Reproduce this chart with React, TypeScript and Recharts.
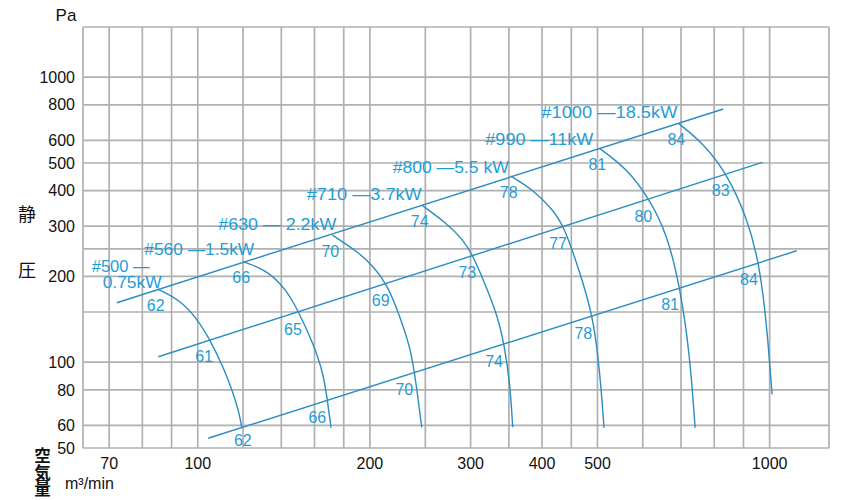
import React from 'react';
import { ComposedChart, Line, Scatter, XAxis, YAxis, CartesianGrid } from 'recharts';

type Pt = { q: number; p: number; db?: number };

// Axis setup (air volume m3/min, static pressure Pa) – log/log
const xDomain: [number, number] = [63, 1270];
const yDomain: [number, number] = [50, 1500];
const xTicks = [70, 100, 200, 300, 400, 500, 1000];
const yTicks = [50, 60, 80, 100, 200, 300, 400, 500, 600, 800, 1000];
const xGrid = [63, 70, 80, 90, 100, 120, 140, 160, 180, 200, 250, 300, 350, 400, 450, 500, 600, 700, 800, 900, 1000, 1270];
const yGrid = [50, 60, 80, 100, 150, 200, 250, 300, 400, 500, 600, 800, 1000, 1500];

// System (resistance) lines
const sysLine1: Pt[] = [{ q: 72.2, p: 161.7 }, { q: 829.9, p: 773.3 }];
const sysLine2: Pt[] = [{ q: 85.3, p: 104.5 }, { q: 971, p: 502.7 }];
const sysLine3: Pt[] = [{ q: 104.3, p: 54.1 }, { q: 1115, p: 246.1 }];

// Fan curves, db = noise level (dB) at the system-line crossings
const fan500: Pt[] = [
  { q: 85.1, p: 180.6, db: 62 }, { q: 93.1, p: 165.3 }, { q: 99.6, p: 142.6 },
  { q: 105.1, p: 119.7, db: 61 }, { q: 110.8, p: 96.4 }, { q: 115.4, p: 77.8 },
  { q: 118.2, p: 66.2 }, { q: 119.4, p: 58.9, db: 62 },
];
const fan560: Pt[] = [
  { q: 120.1, p: 225.3, db: 66 }, { q: 132.0, p: 210.7 }, { q: 143.1, p: 179.2 },
  { q: 150.3, p: 149.2, db: 65 }, { q: 159.2, p: 116.5 }, { q: 165.8, p: 91.4 },
  { q: 168.5, p: 73.7, db: 66 }, { q: 171.0, p: 58.9 },
];
const fan630: Pt[] = [
  { q: 171.9, p: 279.4, db: 70 }, { q: 192.2, p: 241.1 }, { q: 202.8, p: 216.3 },
  { q: 214.0, p: 189.1, db: 69 }, { q: 225.8, p: 144.4 }, { q: 235.0, p: 113.3 },
  { q: 239.2, p: 92.6, db: 70 }, { q: 243.0, p: 73.7 }, { q: 246.4, p: 59.1 },
];
const fan710: Pt[] = [
  { q: 246.4, p: 356.0, db: 74 }, { q: 272.5, p: 307.2 }, { q: 291.3, p: 268.4 },
  { q: 303.3, p: 235.9, db: 73 }, { q: 321.1, p: 179.2 }, { q: 334.5, p: 144.4 },
  { q: 343.2, p: 116.5, db: 74 }, { q: 351.6, p: 84.4 }, { q: 355.4, p: 59.1 },
];
const fan800: Pt[] = [
  { q: 352.6, p: 450.1, db: 78 }, { q: 386.2, p: 401.9 }, { q: 418.4, p: 342.0 },
  { q: 437.0, p: 298.9, db: 77 }, { q: 462.3, p: 216.3 }, { q: 491.6, p: 145.6, db: 78 },
  { q: 505.1, p: 91.4 }, { q: 513.3, p: 58.9 },
];
const fan990: Pt[] = [
  { q: 503.7, p: 563.0, db: 81 }, { q: 562.4, p: 478.9 }, { q: 616.2, p: 373.7, db: 80 },
  { q: 660.9, p: 283.3 }, { q: 697.3, p: 184.0, db: 81 }, { q: 725.9, p: 104.5 },
  { q: 740.7, p: 58.9 },
];
const fan1000: Pt[] = [
  { q: 692.5, p: 688.9, db: 84 }, { q: 765.8, p: 586.3 }, { q: 841.3, p: 459.9, db: 83 },
  { q: 911.7, p: 323.9 }, { q: 958.1, p: 225.3, db: 84 }, { q: 988.3, p: 136.9 },
  { q: 1009.6, p: 77.2 },
];

const fanNames: string[][] = [
  ['#500 —', '0.75kW'],
  ['#560 —1.5kW'],
  ['#630 — 2.2kW'],
  ['#710 —3.7kW'],
  ['#800 —5.5 kW'],
  ['#990 —11kW'],
  ['#1000 —18.5kW'],
];
const fanCurves: Pt[][] = [fan500, fan560, fan630, fan710, fan800, fan990, fan1000];
const sysLines: Pt[][] = [sysLine1, sysLine2, sysLine3];

// ---------- styling ----------
const AXIS_FONT = '"Liberation Sans", Arial, Helvetica, sans-serif';
const CJK_FONT = '"Noto Sans CJK JP", "Noto Sans CJK SC", sans-serif';
const LINE_COLOR = '#2b8dc1';
const TEXT_BLUE = '#1f9dd6';
const GRID = '#b0b0b0';

// label placement (pixel offsets relative to the crossing point)
const NOISE_OFFSETS: [number, number][] = [[-2, 16], [-6, 17], [-10, 18]];
const NAME_LAYOUT: { dx: number; dy: number; w: number }[][] = [
  [{ dx: -8, dy: -23, w: 58 }, { dx: 4, dy: -7, w: 59 }],
  [{ dx: 11, dy: -12, w: 110 }],
  [{ dx: 4, dy: -11, w: 118 }],
  [{ dx: 0, dy: -11, w: 115 }],
  [{ dx: -2, dy: -9, w: 116 }],
  [{ dx: -6, dy: -9, w: 108 }],
  [{ dx: -1, dy: -11, w: 136 }],
];

const noiseData = fanCurves.flatMap((curve, fi) => {
  const marks = curve.filter((d) => d.db != null);
  return marks.map((d, level) => ({
    q: d.q,
    p: d.p,
    db: d.db,
    level,
    atEnd: d === curve[curve.length - 1],
    fi,
  }));
});

const nameData = fanCurves.map((curve, fi) => ({ q: curve[0].q, p: curve[0].p, fi }));

const renderNoise = (props: any) => {
  const { cx, cy, payload } = props;
  if (cx == null || cy == null) return <g />;
  const [dx, dy] = payload.atEnd ? [1, 13] : NOISE_OFFSETS[payload.level] || [0, 16];
  return (
    <text
      x={cx + dx}
      y={cy + dy}
      textAnchor="middle"
      dominantBaseline="central"
      fontSize={16}
      fontFamily={AXIS_FONT}
      fill={TEXT_BLUE}
    >
      {payload.db}
    </text>
  );
};

const renderName = (props: any) => {
  const { cx, cy, payload } = props;
  if (cx == null || cy == null) return <g />;
  const lines = fanNames[payload.fi];
  const layout = NAME_LAYOUT[payload.fi];
  return (
    <g>
      {lines.map((t, i) => (
        <text
          key={i}
          x={cx + layout[i].dx}
          y={cy + layout[i].dy}
          textAnchor="end"
          dominantBaseline="central"
          fontSize={16}
          fontFamily={AXIS_FONT}
          fill={TEXT_BLUE}
          textLength={layout[i].w}
          lengthAdjust="spacingAndGlyphs"
        >
          {t}
        </text>
      ))}
    </g>
  );
};

const tickStyle = { fill: '#111', fontSize: 16, fontFamily: AXIS_FONT };

export default function App() {
  return (
    <div style={{ position: 'absolute', left: 0, top: 0, width: 850, height: 500, background: '#fff' }}>
      <ComposedChart width={850} height={500} margin={{ top: 27, right: 21, bottom: 0, left: 0 }}>
        <CartesianGrid
          stroke={GRID}
          strokeWidth={1.7}
          fill="none"
          horizontalValues={yGrid}
          verticalValues={xGrid}
        />
        <XAxis
          type="number"
          dataKey="q"
          scale="log"
          domain={xDomain}
          allowDataOverflow
          ticks={xTicks}
          interval={0}
          height={52}
          axisLine={false}
          tickLine={false}
          tickSize={0}
          tickMargin={10}
          tick={tickStyle}
        />
        <YAxis
          type="number"
          dataKey="p"
          scale="log"
          domain={yDomain}
          allowDataOverflow
          ticks={yTicks}
          interval={0}
          width={83}
          axisLine={false}
          tickLine={false}
          tickSize={0}
          tickMargin={8}
          tick={tickStyle}
        />
        {sysLines.map((l, i) => (
          <Line
            key={'s' + i}
            data={l}
            dataKey="p"
            type="linear"
            stroke={LINE_COLOR}
            strokeWidth={1.4}
            dot={false}
            activeDot={false}
            isAnimationActive={false}
          />
        ))}
        {fanCurves.map((c, i) => (
          <Line
            key={'f' + i}
            data={c}
            dataKey="p"
            type="basis"
            stroke={LINE_COLOR}
            strokeWidth={1.4}
            dot={false}
            activeDot={false}
            isAnimationActive={false}
          />
        ))}
        <Scatter data={noiseData} shape={renderNoise} isAnimationActive={false} />
        <Scatter data={nameData} shape={renderName} isAnimationActive={false} />
      </ComposedChart>
      <svg
        width={850}
        height={500}
        style={{ position: 'absolute', left: 0, top: 0, pointerEvents: 'none' }}
      >
        <text x={66} y={15} textAnchor="middle" dominantBaseline="central" fontSize={17} fontFamily={AXIS_FONT} fill="#111">Pa</text>
        <text x={27} y={213} textAnchor="middle" dominantBaseline="central" fontSize={18} fontFamily={CJK_FONT} fill="#111">静</text>
        <text x={27} y={269} textAnchor="middle" dominantBaseline="central" fontSize={18} fontFamily={CJK_FONT} fill="#111">圧</text>
        <text
          x={42.5}
          y={447.5}
          fontSize={16.5}
          fontFamily={CJK_FONT}
          fontWeight={700}
          fill="#111"
          style={{ writingMode: 'vertical-rl' }}
        >
          空気量
        </text>
        <text x={65} y={483} dominantBaseline="central" fontSize={16} fontFamily={AXIS_FONT} fill="#111">m³/min</text>
      </svg>
    </div>
  );
}
